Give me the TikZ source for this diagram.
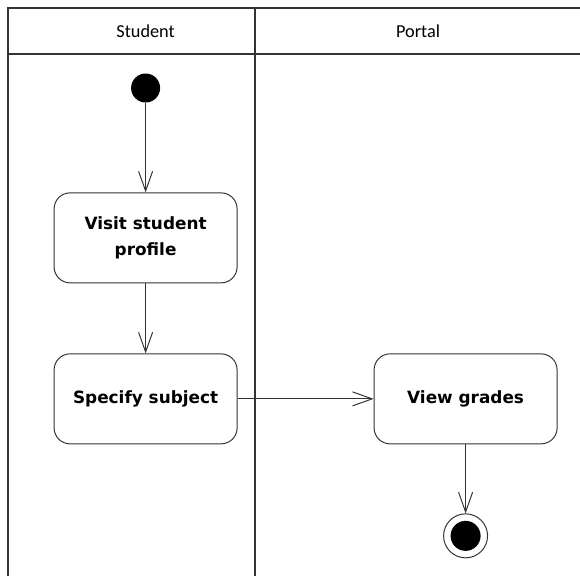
\documentclass[tikz,border=0pt]{standalone}
\usepackage{fontspec}
\setmainfont{DejaVu Sans}
\newfontfamily\lanefont{Carlito}
\usetikzlibrary{arrows.meta,positioning}
\tikzstyle{lane} = [draw=black!80,line width=0.8pt]
\tikzstyle{lanelabel} = [font=\lanefont\fontsize{13}{15}\selectfont]
\tikzstyle{action} = [draw=black!80,line width=0.7pt,rounded corners=0.4cm,minimum width=4.575cm,minimum height=2.25cm,align=center,font=\fontsize{12}{18}\selectfont\bfseries]
\tikzstyle{startdot} = [circle,fill=black,minimum size=0.725cm,inner sep=0pt]
\tikzstyle{enddot} = [circle,draw=black!80,line width=0.7pt,fill=white,minimum size=1.1cm,inner sep=0pt]
\tikzstyle{flow} = [draw=black!80,line width=0.7pt,->]

\begin{document}
\begin{tikzpicture}[>={Straight Barb[length=14pt,width=10pt]}]
\useasboundingbox (0,0) rectangle (14.5,-14.4);
%%% Swimlanes
\draw[lane] (0.2,-14.4) |- (14.5,-0.2);
\draw[lane] (0.2,-1.35) -- (14.5,-1.35);
\draw[lane] (6.375,-0.2) -- (6.375,-14.4);
\node[lanelabel] at (3.64,-0.775) (student) {Student};
\node[lanelabel] at (10.45,-0.775) (portal) {Portal};

%%% Activities
\node[startdot] at (3.64,-2.2) (start) {};
\node[action,below=2.24cm of start] (visit) {Visit student\\profile};
\node[action,below=1.75cm of visit] (specify) {Specify subject};
\node[action,right=3.4cm of specify] (grades) {View grades};
\node[enddot,below=1.725cm of grades] (final) {};
\node[startdot,minimum size=0.75cm] at (final) (finaldot) {};

%%% Flows
\draw[flow] (start) -- (visit);
\draw[flow] (visit) -- (specify);
\draw[flow] (specify) -- (grades);
\draw[flow] (grades) -- (final);
\end{tikzpicture}
\end{document}
